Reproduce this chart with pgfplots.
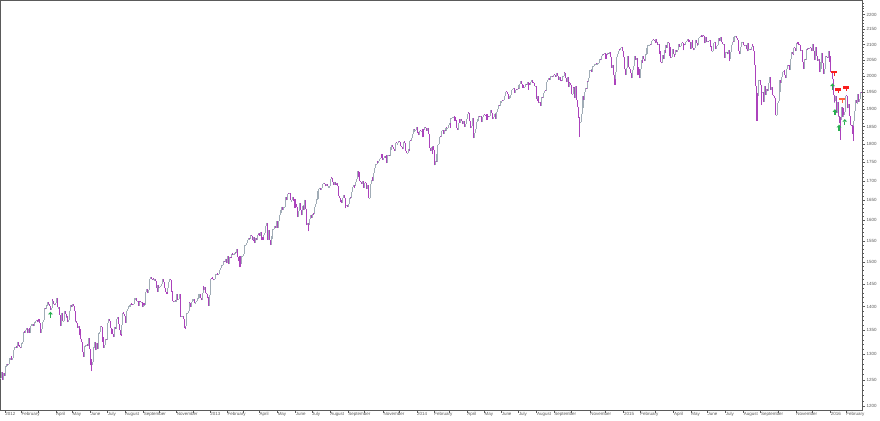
\documentclass[border=0pt]{standalone}
\usepackage{pgfplots}
\usepackage{pgfplotstable}
\pgfplotsset{compat=1.18}
\usepackage{fontspec}
\setmainfont{Liberation Sans}
\definecolor{upc}{RGB}{160,172,182}
\definecolor{dnc}{RGB}{172,66,188}
\definecolor{sigred}{RGB}{250,30,30}
\definecolor{sigorange}{RGB}{255,100,60}
\definecolor{siggreen}{RGB}{40,175,80}
\definecolor{axc}{RGB}{90,90,90}
\pgfdeclareplotmark{sigdown}{%
  \pgfpathrectangle{\pgfpoint{-3bp}{0bp}}{\pgfpoint{6bp}{2.4bp}}\pgfusepathqfill
  \pgfpathrectangle{\pgfpoint{-0.6bp}{-2.6bp}}{\pgfpoint{1.2bp}{2.8bp}}\pgfusepathqfill}
\pgfdeclareplotmark{sigup}{%
  \pgfpathmoveto{\pgfpoint{-2.3bp}{0.6bp}}\pgfpathlineto{\pgfpoint{2.3bp}{0.6bp}}\pgfpathlineto{\pgfpoint{0bp}{3.2bp}}\pgfpathclose\pgfusepathqfill
  \pgfpathrectangle{\pgfpoint{-0.7bp}{-3bp}}{\pgfpoint{1.4bp}{3.7bp}}\pgfusepathqfill}

\pgfplotstableread{
c
1254
1265
1265
1250
1263
1258
1277
1277
1281
1278
1281
1292
1292
1296
1289
1293
1308
1315
1315
1316
1314
1326
1318
1316
1313
1312
1324
1325
1345
1344
1348
1351
1354
1343
1352
1351
1344
1358
1362
1362
1358
1363
1366
1368
1372
1366
1374
1370
1364
1344
1352
1366
1370
1371
1396
1394
1403
1404
1409
1405
1402
1392
1397
1416
1413
1405
1403
1408
1419
1413
1398
1398
1382
1358
1368
1387
1370
1370
1391
1385
1377
1379
1366
1372
1391
1403
1404
1398
1405
1402
1391
1370
1370
1364
1355
1358
1353
1339
1331
1325
1305
1295
1316
1317
1319
1320
1318
1333
1314
1310
1278
1278
1285
1315
1315
1325
1308
1324
1310
1330
1343
1345
1358
1356
1326
1336
1314
1320
1332
1329
1362
1365
1374
1368
1355
1352
1342
1341
1335
1357
1353
1364
1373
1377
1363
1350
1339
1338
1360
1386
1385
1379
1375
1365
1391
1394
1401
1403
1403
1406
1404
1403
1406
1415
1418
1418
1413
1413
1402
1411
1410
1409
1410
1399
1407
1404
1404
1432
1438
1429
1433
1437
1460
1466
1461
1459
1461
1460
1460
1456
1441
1433
1447
1441
1444
1446
1450
1461
1461
1455
1441
1433
1433
1428
1441
1455
1461
1458
1433
1434
1413
1409
1413
1411
1412
1428
1414
1417
1428
1395
1378
1380
1380
1374
1355
1353
1359
1386
1387
1391
1410
1407
1399
1409
1416
1416
1409
1407
1409
1413
1418
1419
1428
1428
1419
1414
1430
1446
1436
1443
1430
1427
1419
1418
1402
1426
1462
1460
1466
1462
1458
1461
1472
1472
1471
1472
1472
1481
1486
1493
1494
1494
1503
1500
1508
1502
1498
1513
1495
1511
1512
1509
1518
1517
1519
1520
1521
1520
1531
1512
1502
1515
1488
1496
1515
1515
1518
1525
1539
1541
1545
1552
1556
1554
1555
1563
1561
1552
1549
1558
1545
1556
1551
1564
1563
1569
1562
1570
1553
1559
1553
1563
1569
1587
1593
1588
1552
1575
1552
1541
1555
1562
1578
1578
1585
1582
1593
1598
1582
1597
1614
1618
1625
1632
1626
1633
1634
1650
1658
1650
1667
1666
1669
1655
1650
1650
1660
1648
1654
1631
1640
1632
1608
1623
1643
1643
1626
1612
1636
1626
1639
1652
1629
1588
1592
1573
1588
1603
1613
1606
1615
1614
1615
1632
1641
1653
1653
1675
1680
1683
1677
1681
1690
1692
1696
1692
1686
1690
1692
1686
1686
1686
1706
1710
1708
1698
1691
1698
1692
1690
1694
1686
1662
1656
1646
1652
1643
1657
1664
1657
1630
1635
1638
1633
1640
1654
1656
1655
1671
1684
1690
1683
1688
1698
1705
1726
1723
1710
1701
1698
1693
1699
1692
1682
1695
1694
1679
1691
1676
1656
1656
1692
1703
1711
1699
1722
1734
1745
1745
1755
1747
1753
1760
1763
1772
1763
1757
1762
1767
1763
1771
1748
1770
1771
1768
1783
1791
1798
1791
1787
1782
1795
1804
1802
1802
1808
1806
1800
1795
1793
1786
1805
1808
1802
1782
1775
1775
1786
1781
1810
1809
1818
1828
1833
1842
1841
1841
1848
1832
1831
1826
1838
1837
1838
1843
1819
1839
1848
1846
1838
1844
1845
1828
1790
1782
1792
1774
1794
1783
1742
1755
1752
1773
1797
1800
1820
1819
1830
1838
1840
1828
1839
1836
1847
1845
1845
1854
1859
1845
1874
1874
1877
1878
1877
1867
1868
1846
1841
1859
1872
1860
1872
1866
1857
1866
1852
1849
1857
1872
1886
1891
1890
1865
1846
1852
1873
1833
1816
1831
1843
1862
1865
1872
1880
1876
1879
1863
1869
1878
1884
1883
1881
1885
1868
1879
1876
1879
1897
1898
1889
1871
1878
1885
1872
1888
1893
1900
1912
1910
1920
1924
1925
1924
1928
1941
1950
1952
1951
1944
1931
1937
1938
1942
1957
1960
1963
1963
1949
1959
1957
1961
1960
1973
1975
1985
1977
1964
1972
1964
1968
1977
1974
1982
1958
1978
1973
1983
1987
1988
1979
1978
1970
1970
1931
1925
1939
1920
1921
1910
1932
1937
1934
1947
1956
1955
1972
1981
1987
1993
1988
1998
2000
2000
1997
2003
2002
2001
1998
2008
2001
1988
1996
1998
1985
1984
2001
2001
2011
2010
1995
1983
1998
1966
1982
1978
1972
1946
1946
1967
1964
1935
1969
1928
1906
1875
1878
1862
1863
1887
1904
1941
1927
1950
1964
1961
1985
1982
1994
2018
2018
2012
2023
2031
2032
2039
2039
2038
2039
2040
2041
2052
2049
2053
2064
2069
2068
2073
2068
2054
2066
2074
2071
2075
2061
2060
2026
2036
2003
1990
1973
2013
2061
2071
2079
2083
2082
2089
2091
2080
2059
2058
2021
2003
2026
2062
2045
2028
2023
2011
1993
2019
2023
2032
2063
2051
2057
2029
2002
2021
1995
2021
2050
2041
2062
2055
2047
2068
2068
2088
2097
2100
2100
2098
2110
2110
2116
2114
2111
2105
2117
2108
2099
2101
2071
2079
2044
2040
2066
2053
2081
2074
2100
2090
2108
2104
2092
2062
2057
2061
2086
2068
2060
2067
2081
2076
2082
2092
2102
2092
2096
2106
2105
2081
2101
2097
2107
2112
2117
2109
2115
2107
2086
2108
2115
2089
2081
2088
2116
2105
2099
2099
2121
2123
2129
2128
2126
2131
2127
2104
2123
2120
2107
2112
2110
2114
2095
2092
2079
2080
2105
2109
2094
2084
2096
2100
2121
2110
2123
2124
2108
2102
2102
2058
2063
2077
2077
2068
2081
2047
2052
2077
2100
2109
2107
2124
2127
2129
2120
2115
2102
2080
2068
2093
2109
2109
2104
2098
2094
2100
2084
2078
2104
2084
2086
2083
2092
2102
2096
2080
2036
1971
1893
1868
1940
1988
1989
1972
1914
1949
1951
1921
1970
1943
1952
1961
1953
1979
1996
1990
1958
1967
1943
1939
1932
1931
1882
1884
1920
1923
1951
1987
1980
1996
2014
2015
2018
2004
1995
2023
2033
2033
2030
2019
2052
2075
2071
2066
2090
2089
2079
2104
2109
2102
2100
2099
2079
2081
2076
2045
2023
2053
2051
2084
2082
2089
2087
2089
2088
2090
2080
2103
2080
2050
2092
2077
2064
2048
2052
2012
2022
2043
2074
2041
2006
2021
2039
2064
2061
2057
2078
2063
2044
2012
2016
1990
1943
1922
1923
1938
1890
1921
1880
1881
1859
1869
1906
1877
1903
1882
1893
1940
1939
1903
1913
1915
1880
1853
1852
1851
1829
1865
1896
1927
1918
1918
1946
1921
1930
1952
1948
}\data

\pgfplotstablecreatecol[create col/assign/.code={%
  \edef\v{\pgfplotstablerow}%
  \pgfkeyslet{/pgfplots/table/create col/next content}\v}]{x}{\data}
\pgfplotstablecreatecol[create col/assign/.code={%
  \getthisrow{c}\cur
  \ifnum\pgfplotstablerow=0 \let\prv\cur\else\getprevrow{c}\prv\fi
  \edef\v{\prv}%
  \pgfkeyslet{/pgfplots/table/create col/next content}\v}]{o}{\data}
\pgfplotstablecreatecol[create col/assign/.code={%
  \getthisrow{c}\cur \getthisrow{o}\opn
  \ifnum\cur<\opn\relax \def\v{nan}\else\edef\v{\cur}\fi
  \pgfkeyslet{/pgfplots/table/create col/next content}\v}]{u}{\data}
\pgfplotstablecreatecol[create col/assign/.code={%
  \getthisrow{c}\cur \getthisrow{o}\opn
  \ifnum\cur<\opn\relax \edef\v{\cur}\else\def\v{nan}\fi
  \pgfkeyslet{/pgfplots/table/create col/next content}\v}]{d}{\data}
\pgfplotstablecreatecol[create col/assign/.code={%
  \getthisrow{c}\cur \getthisrow{o}\opn
  \edef\v{\the\numexpr\cur-\opn\relax}%
  \ifnum\v<0 \edef\v{\the\numexpr-\v\relax}\fi
  \ifnum\v<3 \def\v{3}\fi
  \pgfkeyslet{/pgfplots/table/create col/next content}\v}]{e}{\data}

% intraday ranges of a few wide days: x, low, range
\pgfplotstableread{
x lo r
111 1267 23
706 1820 54
921 1867 98
922 1867 81
1023 1812 64
1039 1810 40
}\wicks

\begin{document}
\begin{tikzpicture}
\useasboundingbox (0,-11bp) rectangle (880bp,410bp);
\begin{axis}[
  at={(0,0)}, anchor=south west,
  scale only axis, width=862bp, height=410bp,
  ymode=log, ymin=1193, ymax=2250,
  xmin=-0.5, xmax=1050,
  axis line style={axc, line width=0.5bp},
  tick style={axc, line width=0.4bp},
  tick align=outside,
  major tick length=3bp, minor tick length=1.5bp,
  xtick pos=left, ytick pos=right,
  yticklabel pos=right,
  ytick={1200,1250,1300,1350,1400,1450,1500,1550,1600,1650,1700,1750,1800,1850,1900,1950,2000,2050,2100,2150,2200},
  yticklabels={1200,1250,1300,1350,1400,1450,1500,1550,1600,1650,1700,1750,1800,1850,1900,1950,2000,2050,2100,2150,2200},
  minor ytick={1200,1210,1220,1230,1240,1250,1260,1270,1280,1290,1300,1310,1320,1330,1340,1350,1360,1370,1380,1390,1400,1410,1420,1430,1440,1450,1460,1470,1480,1490,1500,1510,1520,1530,1540,1550,1560,1570,1580,1590,1600,1610,1620,1630,1640,1650,1660,1670,1680,1690,1700,1710,1720,1730,1740,1750,1760,1770,1780,1790,1800,1810,1820,1830,1840,1850,1860,1870,1880,1890,1900,1910,1920,1930,1940,1950,1960,1970,1980,1990,2000,2010,2020,2030,2040,2050,2060,2070,2080,2090,2100,2110,2120,2130,2140,2150,2160,2170,2180,2190,2200,2210,2220,2230,2240},
  xtick={5.5,25.5,45.5,67.5,87.5,109.5,130.5,151.5,174.5,193.5,214.5,235.5,
         255.5,276.5,295.5,315.5,337.5,359.5,379.5,401.5,423.5,443.5,466.5,486.5,
         507.5,528.5,547.5,568.5,589.5,610.5,631.5,653.5,674.5,695.5,718.5,737.5,
         759.5,779.5,798.5,820.5,841.5,861.5,883.5,905.5,926.5,947.5,969.5,989.5,
         1011.5,1030.5},
  xticklabels={2012,February,{},April,May,June,July,August,September,{},November,{},
               2013,February,{},April,May,June,July,August,September,{},November,{},
               2014,February,{},April,May,June,July,August,September,{},November,{},
               2015,February,{},April,May,June,July,August,September,{},November,{},
               2016,February},
  minor x tick num=3,
  xticklabel style={font=\fontsize{4.5}{5}\selectfont, text=axc, anchor=north west, xshift=-0.8bp, yshift=1.5bp, inner sep=1bp},
  yticklabel style={font=\fontsize{4.5}{5}\selectfont, text=axc, anchor=west, xshift=0.5bp, inner sep=1bp},
  clip=false,
]
\addplot[draw=none, mark=none, forget plot,
  error bars/.cd, y dir=minus, y explicit, error mark=none,
  error bar style={draw=upc, line width=1.1bp, line cap=butt}]
  table[x=x, y=u, y error=e]{\data};
\addplot[draw=none, mark=none, forget plot,
  error bars/.cd, y dir=plus, y explicit, error mark=none,
  error bar style={draw=dnc, line width=1.05bp, line cap=butt}]
  table[x=x, y=d, y error=e]{\data};
\addplot[draw=none, mark=none, forget plot,
  error bars/.cd, y dir=plus, y explicit, error mark=none,
  error bar style={draw=dnc, line width=0.7bp, line cap=butt}]
  table[x=x, y=lo, y error=r]{\wicks};
\addplot[only marks, mark=sigup, color=siggreen] coordinates {(61,1382) (1014,1968) (1017,1891) (1022,1846) (1029,1862)};
\addplot[only marks, mark=sigdown, color=sigred] coordinates {(1016,2008) (1021,1956) (1031,1961)};
\addplot[only marks, mark=sigdown, color=sigorange] coordinates {(1026,1926)};
\end{axis}
\end{tikzpicture}
\end{document}
